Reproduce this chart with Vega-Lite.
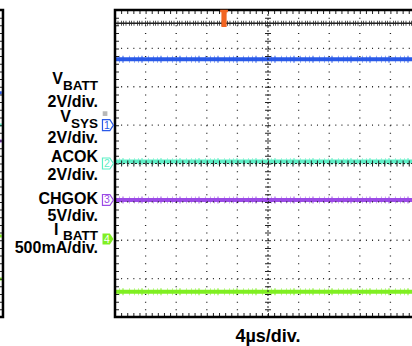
{
  "$schema": "https://vega.github.io/schema/vega-lite/v6.json",
  "width": 412,
  "height": 346,
  "autosize": {"type": "none"},
  "padding": 0,
  "background": "white",
  "config": {"view": {"stroke": null}, "text": {"font": "Liberation Sans"}},
  "datasets": {
    "traces": [
      {"ch": "CH0", "t0": -20, "t1": 20, "v": 3.653},
      {"ch": "CH1", "t0": -20, "t1": 20, "v": 2.715},
      {"ch": "CH2", "t0": -20, "t1": 20, "v": 0.05},
      {"ch": "CH3", "t0": -20, "t1": 20, "v": -0.951},
      {"ch": "CH4", "t0": -20, "t1": 20, "v": -3.34}
    ],
    "prevTraces": [
      {"ch": "CH1", "t0": -40, "t1": -34.8, "v": 1.845},
      {"ch": "CH2", "t0": -40, "t1": -34.8, "v": 1.003},
      {"ch": "CH3", "t0": -40, "t1": -34.8, "v": 0.586},
      {"ch": "CH4", "t0": -40, "t1": -34.8, "v": -1.889},
      {"ch": "CH4", "t0": -40, "t1": -34.8, "v": -3.01}
    ],
    "frames": [
      {"panel": "scope", "t0": -20, "t1": 24, "v0": -4, "v1": 4},
      {"panel": "previous", "t0": -60, "t1": -34.64, "v0": -4, "v1": 4}
    ],
    "vgrid": [
      {"t": -16, "v0": 4, "v1": -4}, {"t": -12, "v0": 4, "v1": -4}, {"t": -8, "v0": 4, "v1": -4}, {"t": -4, "v0": 4, "v1": -4},
      {"t": 4, "v0": 4, "v1": -4}, {"t": 8, "v0": 4, "v1": -4}, {"t": 12, "v0": 4, "v1": -4}, {"t": 16, "v0": 4, "v1": -4}
    ],
    "hgrid": [
      {"v": 3, "t0": -20, "t1": 20}, {"v": 2, "t0": -20, "t1": 20}, {"v": 1, "t0": -20, "t1": 20},
      {"v": -1, "t0": -20, "t1": 20}, {"v": -2, "t0": -20, "t1": 20}, {"v": -3, "t0": -20, "t1": 20}
    ],
    "vcenter": [{"t": 0, "v0": 4, "v1": -4}],
    "hcenter": [{"v": 0, "t0": -20, "t1": 20}],
    "topEdge": [{"v": 4, "t0": -20, "t1": 20}],
    "bottomEdge": [{"v": -4, "t0": -20, "t1": 20}],
    "leftEdge": [{"t": -20, "v0": 4, "v1": -4}],
    "prevEdge": [{"t": -34.64, "v0": 4, "v1": -4}],
    "markers": [
      {"ch": "CH1", "label": "1", "t": -20.92, "v": 1.0},
      {"ch": "CH2", "label": "2", "t": -20.92, "v": 0.0},
      {"ch": "CH3", "label": "3", "t": -20.92, "v": -0.951},
      {"ch": "CH4", "label": "4", "t": -20.92, "v": -1.97}
    ],
    "refIcon": [{"t": -21.3, "v": 1.3}],
    "labels": [
      {"text": "V", "t": -26.8, "v": 2.064, "part": "main"},
      {"text": "BATT", "t": -22.22, "v": 1.915, "part": "sub"},
      {"text": "2V/div.", "t": -22.22, "v": 1.48, "part": "main"},
      {"text": "V", "t": -25.75, "v": 1.074, "part": "main"},
      {"text": "SYS", "t": -22.22, "v": 0.925, "part": "sub"},
      {"text": "2V/div.", "t": -22.22, "v": 0.526, "part": "main"},
      {"text": "ACOK", "t": -22.22, "v": 0.052, "part": "main"},
      {"text": "2V/div.", "t": -22.22, "v": -0.43, "part": "main"},
      {"text": "CHGOK", "t": -22.22, "v": -1.063, "part": "main"},
      {"text": "5V/div.", "t": -22.22, "v": -1.498, "part": "main"},
      {"text": "I", "t": -27.39, "v": -1.863, "part": "main"},
      {"text": "BATT", "t": -22.22, "v": -1.993, "part": "sub"},
      {"text": "500mA/div.", "t": -22.22, "v": -2.332, "part": "main"}
    ],
    "xlabel": [{"text": "4µs/div.", "t": 0, "v": -4.644}],
    "trigger": [{"t": -5.75, "v": 3.782}]
  },
  "layer": [
    {
      "data": {"name": "traces"},
      "transform": [{"filter": "datum.ch !== 'CH0'"}],
      "mark": {"type": "rule", "strokeWidth": 4, "clip": true},
      "encoding": {
        "x": {"field": "t0", "type": "quantitative", "scale": {"domain": [-35.03, 18.82], "nice": false, "zero": false}, "axis": null},
        "x2": {"field": "t1"},
        "y": {"field": "v", "type": "quantitative", "scale": {"domain": [-4.7557, 4.2606], "nice": false, "zero": false}, "axis": null},
        "color": {"field": "ch", "type": "nominal", "scale": {"domain": ["CH0", "CH1", "CH2", "CH3", "CH4"], "range": ["#222222", "#2a5ae8", "#5cefc6", "#9b4be6", "#80ef22"]}, "legend": null}
      }
    },
    {
      "data": {"name": "traces"},
      "transform": [{"filter": "datum.ch !== 'CH0'"}],
      "mark": {"type": "rule", "strokeWidth": 7, "strokeDash": [1, 3, 1, 2, 2, 5, 1, 4], "opacity": 0.5, "clip": true},
      "encoding": {
        "x": {"field": "t0", "type": "quantitative", "axis": null},
        "x2": {"field": "t1"},
        "y": {"field": "v", "type": "quantitative", "axis": null},
        "color": {"field": "ch", "type": "nominal", "legend": null}
      }
    },
    {
      "data": {"name": "traces"},
      "transform": [{"filter": "datum.ch === 'CH0'"}],
      "mark": {"type": "rule", "strokeWidth": 1.5, "clip": true},
      "encoding": {
        "x": {"field": "t0", "type": "quantitative", "axis": null},
        "x2": {"field": "t1"},
        "y": {"field": "v", "type": "quantitative", "axis": null},
        "color": {"field": "ch", "type": "nominal", "legend": null}
      }
    },
    {
      "data": {"name": "traces"},
      "transform": [{"filter": "datum.ch === 'CH0'"}],
      "mark": {"type": "rule", "strokeWidth": 5, "strokeDash": [1, 1.5, 1, 2.5, 1, 1], "opacity": 0.75, "clip": true},
      "encoding": {
        "x": {"field": "t0", "type": "quantitative", "axis": null},
        "x2": {"field": "t1"},
        "y": {"field": "v", "type": "quantitative", "axis": null},
        "color": {"field": "ch", "type": "nominal", "legend": null}
      }
    },
    {
      "data": {"name": "prevTraces"},
      "mark": {"type": "rule", "strokeWidth": 3, "clip": true},
      "encoding": {
        "x": {"field": "t0", "type": "quantitative", "axis": null},
        "x2": {"field": "t1"},
        "y": {"field": "v", "type": "quantitative", "axis": null},
        "color": {"field": "ch", "type": "nominal", "legend": null}
      }
    },
    {
      "data": {"name": "vgrid"},
      "mark": {"type": "rule", "strokeWidth": 1.3, "color": "#222222", "strokeDash": [1, 6.675], "clip": true},
      "encoding": {
        "x": {"field": "t", "type": "quantitative", "axis": null},
        "y": {"field": "v0", "type": "quantitative", "axis": null},
        "y2": {"field": "v1"}
      }
    },
    {
      "data": {"name": "hgrid"},
      "mark": {"type": "rule", "strokeWidth": 1.3, "color": "#222222", "strokeDash": [1, 5.12], "clip": true},
      "encoding": {
        "y": {"field": "v", "type": "quantitative", "axis": null},
        "x": {"field": "t0", "type": "quantitative", "axis": null},
        "x2": {"field": "t1"}
      }
    },
    {
      "data": {"name": "vcenter"},
      "mark": {"type": "rule", "strokeWidth": 1, "color": "#222222", "strokeDash": [2, 2], "clip": true},
      "encoding": {
        "x": {"field": "t", "type": "quantitative", "axis": null},
        "y": {"field": "v0", "type": "quantitative", "axis": null},
        "y2": {"field": "v1"}
      }
    },
    {
      "data": {"name": "vcenter"},
      "mark": {"type": "rule", "strokeWidth": 6, "color": "#222222", "strokeDash": [1, 6.675], "clip": true},
      "encoding": {
        "x": {"field": "t", "type": "quantitative", "axis": null},
        "y": {"field": "v0", "type": "quantitative", "axis": null},
        "y2": {"field": "v1"}
      }
    },
    {
      "data": {"name": "hcenter"},
      "mark": {"type": "rule", "strokeWidth": 1, "color": "#222222", "strokeDash": [2, 2], "clip": true},
      "encoding": {
        "y": {"field": "v", "type": "quantitative", "axis": null},
        "x": {"field": "t0", "type": "quantitative", "axis": null},
        "x2": {"field": "t1"}
      }
    },
    {
      "data": {"name": "hcenter"},
      "mark": {"type": "rule", "strokeWidth": 6, "color": "#222222", "strokeDash": [1, 5.12], "clip": true},
      "encoding": {
        "y": {"field": "v", "type": "quantitative", "axis": null},
        "x": {"field": "t0", "type": "quantitative", "axis": null},
        "x2": {"field": "t1"}
      }
    },
    {
      "data": {"name": "topEdge"},
      "mark": {"type": "rule", "strokeWidth": 4, "yOffset": 2, "color": "#222222", "strokeDash": [1, 5.12], "clip": true},
      "encoding": {
        "y": {"field": "v", "type": "quantitative", "axis": null},
        "x": {"field": "t0", "type": "quantitative", "axis": null},
        "x2": {"field": "t1"}
      }
    },
    {
      "data": {"name": "bottomEdge"},
      "mark": {"type": "rule", "strokeWidth": 4, "yOffset": -2, "color": "#222222", "strokeDash": [1, 5.12], "clip": true},
      "encoding": {
        "y": {"field": "v", "type": "quantitative", "axis": null},
        "x": {"field": "t0", "type": "quantitative", "axis": null},
        "x2": {"field": "t1"}
      }
    },
    {
      "data": {"name": "leftEdge"},
      "mark": {"type": "rule", "strokeWidth": 4, "xOffset": 2, "color": "#222222", "strokeDash": [1, 6.675], "clip": true},
      "encoding": {
        "x": {"field": "t", "type": "quantitative", "axis": null},
        "y": {"field": "v0", "type": "quantitative", "axis": null},
        "y2": {"field": "v1"}
      }
    },
    {
      "data": {"name": "prevEdge"},
      "mark": {"type": "rule", "strokeWidth": 4, "xOffset": -2, "color": "#222222", "strokeDash": [1, 6.675], "clip": true},
      "encoding": {
        "x": {"field": "t", "type": "quantitative", "axis": null},
        "y": {"field": "v0", "type": "quantitative", "axis": null},
        "y2": {"field": "v1"}
      }
    },
    {
      "data": {"name": "frames"},
      "mark": {"type": "rect", "filled": false, "stroke": "#000000", "strokeWidth": 2.5, "clip": true},
      "encoding": {
        "x": {"field": "t0", "type": "quantitative", "axis": null},
        "x2": {"field": "t1"},
        "y": {"field": "v0", "type": "quantitative", "axis": null},
        "y2": {"field": "v1"}
      }
    },
    {
      "data": {"name": "markers"},
      "transform": [{"filter": "datum.ch !== 'CH4'"}],
      "mark": {"type": "point", "shape": "M-1,-1L0.35,-1L1,0L0.35,1L-1,1Z", "size": 120, "filled": false, "strokeWidth": 1.2, "opacity": 1},
      "encoding": {
        "x": {"field": "t", "type": "quantitative", "axis": null},
        "y": {"field": "v", "type": "quantitative", "axis": null},
        "color": {"field": "ch", "type": "nominal", "legend": null}
      }
    },
    {
      "data": {"name": "markers"},
      "transform": [{"filter": "datum.ch === 'CH4'"}],
      "mark": {"type": "point", "shape": "M-1,-1L0.35,-1L1,0L0.35,1L-1,1Z", "size": 120, "filled": true, "opacity": 1},
      "encoding": {
        "x": {"field": "t", "type": "quantitative", "axis": null},
        "y": {"field": "v", "type": "quantitative", "axis": null},
        "color": {"field": "ch", "type": "nominal", "legend": null}
      }
    },
    {
      "data": {"name": "markers"},
      "transform": [{"filter": "datum.ch !== 'CH4'"}],
      "mark": {"type": "text", "fontSize": 10.5, "dx": -1, "dy": 0.5, "baseline": "middle", "align": "center"},
      "encoding": {
        "x": {"field": "t", "type": "quantitative", "axis": null},
        "y": {"field": "v", "type": "quantitative", "axis": null},
        "text": {"field": "label", "type": "nominal"},
        "color": {"field": "ch", "type": "nominal", "legend": null}
      }
    },
    {
      "data": {"name": "markers"},
      "transform": [{"filter": "datum.ch === 'CH4'"}],
      "mark": {"type": "text", "fontSize": 10.5, "dx": -1, "dy": 0.5, "baseline": "middle", "align": "center", "color": "white"},
      "encoding": {
        "x": {"field": "t", "type": "quantitative", "axis": null},
        "y": {"field": "v", "type": "quantitative", "axis": null},
        "text": {"field": "label", "type": "nominal"}
      }
    },
    {
      "data": {"name": "refIcon"},
      "mark": {"type": "point", "shape": "square", "size": 22, "filled": true, "color": "#b8b8b8", "opacity": 1},
      "encoding": {
        "x": {"field": "t", "type": "quantitative", "axis": null},
        "y": {"field": "v", "type": "quantitative", "axis": null}
      }
    },
    {
      "data": {"name": "trigger"},
      "mark": {"type": "point", "shape": "M-0.45,-1L0.45,-1L0.45,-0.7L0.3,-0.7L0.3,1L-0.3,1L-0.3,-0.7L-0.45,-0.7Z", "size": 300, "filled": true, "color": "#f26522", "opacity": 1},
      "encoding": {
        "x": {"field": "t", "type": "quantitative", "axis": null},
        "y": {"field": "v", "type": "quantitative", "axis": null}
      }
    },
    {
      "data": {"name": "labels"},
      "transform": [{"filter": "datum.part === 'main'"}],
      "mark": {"type": "text", "fontSize": 16, "fontWeight": "bold", "align": "right", "baseline": "alphabetic", "color": "#000000"},
      "encoding": {
        "x": {"field": "t", "type": "quantitative", "axis": null},
        "y": {"field": "v", "type": "quantitative", "axis": null},
        "text": {"field": "text", "type": "nominal"}
      }
    },
    {
      "data": {"name": "labels"},
      "transform": [{"filter": "datum.part === 'sub'"}],
      "mark": {"type": "text", "fontSize": 13.5, "fontWeight": "bold", "align": "right", "baseline": "alphabetic", "color": "#000000"},
      "encoding": {
        "x": {"field": "t", "type": "quantitative", "axis": null},
        "y": {"field": "v", "type": "quantitative", "axis": null},
        "text": {"field": "text", "type": "nominal"}
      }
    },
    {
      "data": {"name": "xlabel"},
      "mark": {"type": "text", "fontSize": 18, "fontWeight": "bold", "align": "center", "baseline": "alphabetic", "color": "#000000"},
      "encoding": {
        "x": {"field": "t", "type": "quantitative", "axis": null},
        "y": {"field": "v", "type": "quantitative", "axis": null},
        "text": {"field": "text", "type": "nominal"}
      }
    }
  ]
}
